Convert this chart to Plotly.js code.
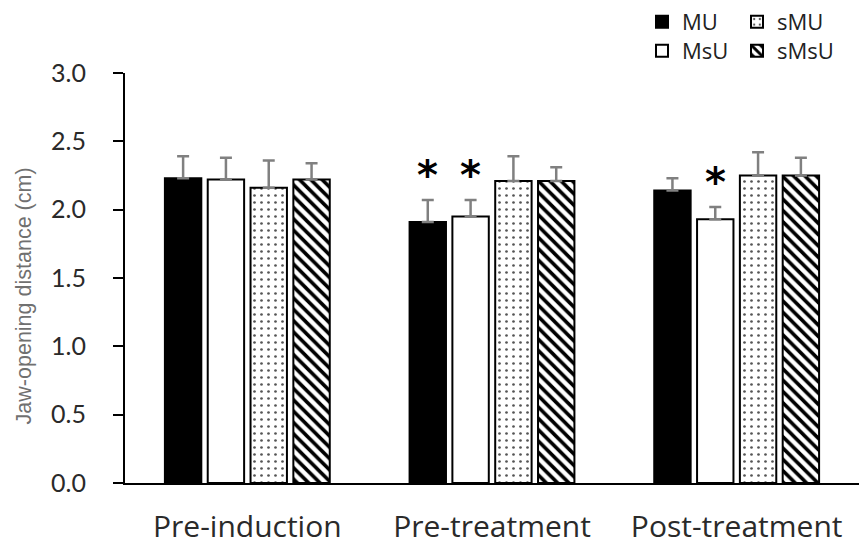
<!DOCTYPE html>
<html>
<head>
<meta charset="utf-8">
<script src="https://cdn.plot.ly/plotly-3.0.1.min.js"></script>
<style>html,body{margin:0;padding:0;background:#fff}#chart{width:859px;height:546px}</style>
</head>
<body>
<div id="chart"></div>
<script>
var categories = ["Pre-induction", "Pre-treatment", "Post-treatment"];
var seriesNames = ["MU", "MsU", "sMU", "sMsU"];
var MU = [2.23, 1.91, 2.14];
var MsU = [2.22, 1.95, 1.93];
var sMU = [2.16, 2.21, 2.25];
var sMsU = [2.22, 2.21, 2.25];
var MU_err = [0.16, 0.16, 0.09];
var MsU_err = [0.16, 0.12, 0.09];
var sMU_err = [0.20, 0.18, 0.17];
var sMsU_err = [0.12, 0.10, 0.13];
var significant = [[false, true, false], [false, true, true], [false, false, false], [false, false, false]];

var values = [MU, MsU, sMU, sMsU];
var errs = [MU_err, MsU_err, sMU_err, sMsU_err];
var styles = [
  {color: "#000000", pattern: {shape: ""}},
  {color: "#ffffff", pattern: {shape: ""}},
  {color: "#ffffff", pattern: {shape: ".", fgcolor: "#555555", fgopacity: 1, bgcolor: "#ffffff", size: 7, solidity: 0.12, fillmode: "overlay"}},
  {color: "#ffffff", pattern: {shape: "\\", fgcolor: "#000000", fgopacity: 1, bgcolor: "#ffffff", size: 8, solidity: 0.45, fillmode: "overlay"}}
];
var legendIds = ["legend", "legend3", "legend2", "legend4"];

var traces = seriesNames.map(function (name, i) {
  return {
    type: "bar",
    name: name,
    x: categories,
    y: values[i],
    legend: legendIds[i],
    marker: {color: styles[i].color, pattern: styles[i].pattern, line: {color: "#000000", width: 2}},
    error_y: {type: "data", symmetric: false, array: errs[i], arrayminus: errs[i].map(function () { return 0; }),
      color: "#808080", thickness: 2.5, width: 6}
  };
});

var bargap = 0.3;
var annotations = [];
seriesNames.forEach(function (name, i) {
  categories.forEach(function (c, j) {
    if (significant[i][j]) {
      annotations.push({
        x: j + (i - 1.5) * (1 - bargap) / 4,
        y: values[i][j] + errs[i][j],
        xref: "x", yref: "y",
        text: "*",
        showarrow: false,
        yanchor: "bottom",
        yshift: 0,
        font: {family: "DejaVu Sans, sans-serif", size: 40, color: "#000", weight: "bold"}
      });
    }
  });
});

var legendFont = {family: "Open Sans, sans-serif", size: 22, color: "#222"};
function leg(x, y) {
  return {orientation: "h", xref: "container", yref: "container", x: x, y: y, xanchor: "left", yanchor: "middle",
    font: legendFont, itemwidth: 30, bgcolor: "rgba(0,0,0,0)"};
}
var layout = {
  width: 859, height: 546,
  margin: {l: 125, r: 0, t: 73, b: 63},
  paper_bgcolor: "#fff", plot_bgcolor: "#fff",
  barmode: "group",
  bargap: bargap,
  bargroupgap: 0.15,
  showlegend: true,
  legend: leg(642 / 859, 1 - 22 / 546),
  legend2: leg(737 / 859, 1 - 22 / 546),
  legend3: leg(642 / 859, 1 - 51 / 546),
  legend4: leg(737 / 859, 1 - 51 / 546),
  xaxis: {
    type: "category",
    range: [-0.5, 2.5],
    showline: true, linecolor: "#000", linewidth: 2,
    ticks: "", showgrid: false, zeroline: false,
    tickfont: {family: "Open Sans, sans-serif", size: 30, color: "#2a2a2a"},
    ticklabelstandoff: 16
  },
  yaxis: {
    range: [0, 3],
    tickvals: [0, 0.5, 1, 1.5, 2, 2.5, 3],
    ticktext: ["0.0", "0.5", "1.0", "1.5", "2.0", "2.5", "3.0"],
    showline: true, linecolor: "#000", linewidth: 2,
    ticks: "outside", ticklen: 10, tickwidth: 2, tickcolor: "#000",
    showgrid: false, zeroline: false,
    tickfont: {family: "Lato, sans-serif", size: 25, color: "#2a2a2a"},
    ticklabelstandoff: 22,
    title: {text: "Jaw-opening distance (cm)&nbsp;&nbsp;&nbsp;&nbsp;&nbsp;&nbsp;", font: {family: "Liberation Sans, Arial, sans-serif", size: 21.5, color: "#707070"}, standoff: 14}
  },
  annotations: annotations
};

Plotly.newPlot("chart", traces, layout, {displayModeBar: false, staticPlot: true});
</script>
</body>
</html>
